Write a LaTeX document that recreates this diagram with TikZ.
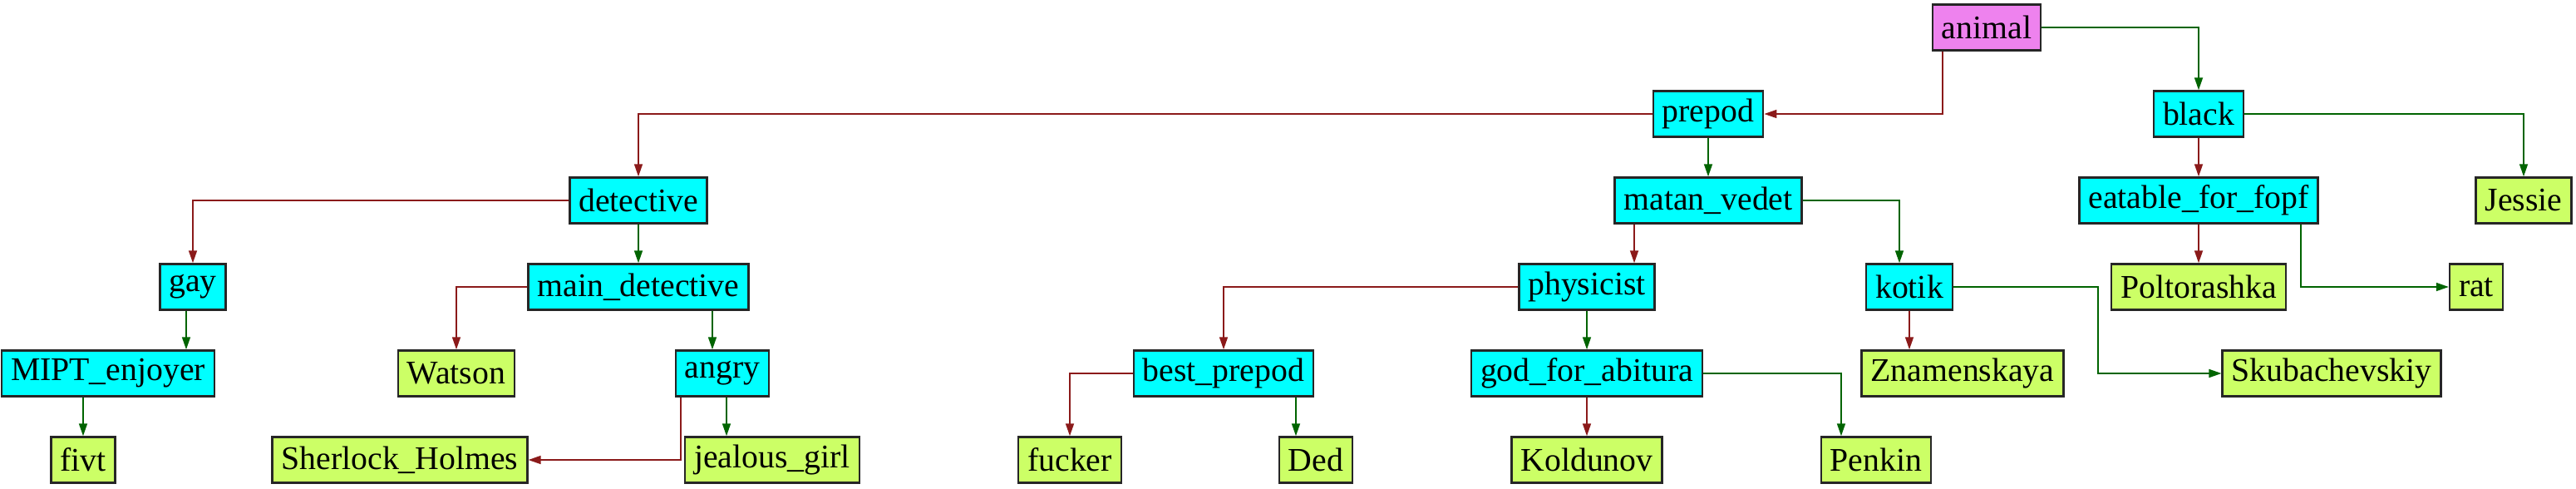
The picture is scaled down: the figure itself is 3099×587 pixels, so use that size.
\documentclass[tikz,border=0pt]{standalone}
\usepackage{fontspec}
\setmainfont{Liberation Serif}
\usepackage{xcolor}
\usetikzlibrary{arrows.meta}
\definecolor{nodeviolet}{RGB}{238,130,238}
\definecolor{nodecyan}{RGB}{0,255,255}
\definecolor{leafgreen}{RGB}{204,255,102}
\definecolor{edgered}{RGB}{139,26,26}
\definecolor{edgegreen}{RGB}{0,100,0}

\begin{document}
\begin{tikzpicture}[x=0.01cm,y=-0.01cm,
	box/.style={draw=black!85,line width=0.7pt,inner xsep=0.11cm,inner ysep=0pt,minimum height=0.55cm,font=\fontsize{11.3}{13}\selectfont},
	root/.style={box,fill=nodeviolet},
	ask/.style={box,fill=nodecyan},
	leaf/.style={box,fill=leafgreen},
	redarr/.style={draw=edgered,line width=0.45pt,-{Triangle[length=0.15cm,width=0.1cm]}},
	greenarr/.style={draw=edgegreen,line width=0.45pt,-{Triangle[length=0.15cm,width=0.1cm]}}]
		\useasboundingbox (0,0) rectangle (3099,587);
		% уровень 0 и 1
		\node[root] (animal) at (2390,33) {animal};
		\node[ask] (prepod) at (2055,137) {prepod};
		\node[ask] (black) at (2645,137) {black};
		% уровень 2
		\node[ask] (detective) at (768,241) {detective};
		\node[ask] (matan_vedet) at (2055,241) {matan\_vedet};
		\node[ask] (eatable_for_fopf) at (2645,241) {eatable\_for\_fopf};
		\node[leaf] (Jessie) at (3036,241) {Jessie};
		% уровень 3
		\node[ask] (gay) at (232,345) {gay};
		\node[ask] (main_detective) at (768,345) {main\_detective};
		\node[ask] (physicist) at (1909,345) {physicist};
		\node[ask] (kotik) at (2297,345) {kotik};
		\node[leaf] (Poltorashka) at (2645,345) {Poltorashka};
		\node[leaf] (rat) at (2979,345) {rat};
		% уровень 4
		\node[ask] (MIPT_enjoyer) at (130,449) {MIPT\_enjoyer};
		\node[leaf] (Watson) at (549,449) {Watson};
		\node[ask] (angry) at (869,449) {angry};
		\node[ask] (best_prepod) at (1472,449) {best\_prepod};
		\node[ask] (god_for_abitura) at (1909,449) {god\_for\_abitura};
		\node[leaf] (Znamenskaya) at (2361,449) {Znamenskaya};
		\node[leaf] (Skubachevskiy) at (2805,449) {Skubachevskiy};
		% уровень 5
		\node[leaf] (fivt) at (100,553) {fivt};
		\node[leaf] (Sherlock_Holmes) at (481,553) {Sherlock\_Holmes};
		\node[leaf] (jealous_girl) at (929,553) {jealous\_girl};
		\node[leaf] (fucker) at (1287,553) {fucker};
		\node[leaf] (Ded) at (1583,553) {Ded};
		\node[leaf] (Koldunov) at (1909,553) {Koldunov};
		\node[leaf] (Penkin) at (2257,553) {Penkin};
		% стрелки
		\draw[redarr] ([xshift=-0.53cm]animal.south) |- (prepod.east);
		\draw[greenarr] (animal.east) -| (black.north);
		\draw[redarr] (prepod.west) -| (detective.north);
		\draw[greenarr] (prepod.south) -- (matan_vedet.north);
		\draw[redarr] (black.south) -- (eatable_for_fopf.north);
		\draw[greenarr] (black.east) -| (Jessie.north);
		\draw[redarr] (detective.west) -| (gay.north);
		\draw[greenarr] (detective.south) -- (main_detective.north);
		\draw[redarr] ([xshift=0.57cm]physicist.north |- matan_vedet.south) -- ([xshift=0.57cm]physicist.north);
		\draw[greenarr] (matan_vedet.east) -| ([xshift=-0.12cm]kotik.north);
		\draw[redarr] (eatable_for_fopf.south) -- (Poltorashka.north);
		\draw[greenarr] ([xshift=1.23cm]eatable_for_fopf.south) |- (rat.west);
		\draw[greenarr] ([xshift=-0.08cm]gay.south) -- ([xshift=-0.08cm]gay.south |- MIPT_enjoyer.north);
		\draw[redarr] (main_detective.west) -| (Watson.north);
		\draw[greenarr] ([xshift=-0.12cm]angry.north |- main_detective.south) -- ([xshift=-0.12cm]angry.north);
		\draw[redarr] (physicist.west) -| (best_prepod.north);
		\draw[greenarr] (physicist.south) -- (god_for_abitura.north);
		\draw[redarr] (kotik.south) -- (kotik.south |- Znamenskaya.north);
		\draw[greenarr] (kotik.east) -- ++(174,0) |- (Skubachevskiy.west);
		\draw[greenarr] (fivt.north |- MIPT_enjoyer.south) -- (fivt.north);
		\draw[redarr] ([xshift=-0.5cm]angry.south) |- (Sherlock_Holmes.east);
		\draw[greenarr] ([xshift=0.05cm]angry.south) -- ([xshift=0.05cm]angry.south |- jealous_girl.north);
		\draw[redarr] (best_prepod.west) -| (fucker.north);
		\draw[greenarr] ([xshift=-0.24cm]Ded.north |- best_prepod.south) -- ([xshift=-0.24cm]Ded.north);
		\draw[redarr] (god_for_abitura.south) -- (Koldunov.north);
		\draw[greenarr] (god_for_abitura.east) -| ([xshift=-0.42cm]Penkin.north);
\end{tikzpicture}
\end{document}
